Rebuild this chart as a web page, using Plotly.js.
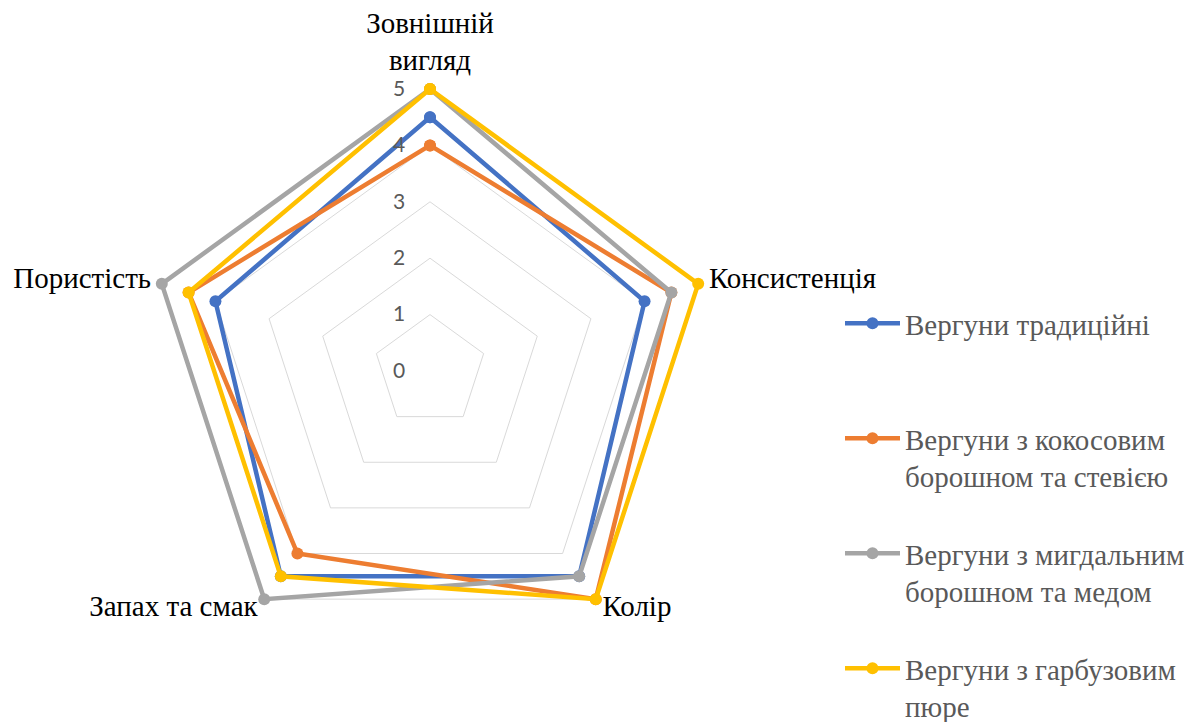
<!DOCTYPE html>
<html>
<head>
<meta charset="utf-8">
<script src="https://cdn.plot.ly/plotly-3.0.1.min.js"></script>
<style>html,body{margin:0;padding:0;background:#fff;}#chart{width:1203px;height:722px;}</style>
</head>
<body>
<div id="chart"></div>
<script>
const categories = ["Зовнішній<br>вигляд", "Консистенція", "Колір", "Запах та смак", "Пористість"];
const seriesNames = [
  "Вергуни традиційні",
  "Вергуни з кокосовим<br>борошном та стевією",
  "Вергуни з мигдальним<br>борошном та медом",
  "Вергуни з гарбузовим<br>пюре"
];
const traditional = [4.5, 4, 4.5, 4.5, 4];
const coconut = [4, 4.5, 5, 4, 4.5];
const almond = [5, 4.5, 4.5, 5, 5];
const pumpkin = [5, 5, 5, 4.5, 4.5];
const radialTicks = [0, 1, 2, 3, 4, 5];

const colors = ["#4472C4", "#ED7D31", "#A5A5A5", "#FFC000"];
const allSeries = [traditional, coconut, almond, pumpkin];
const legendIds = ["legend", "legend2", "legend3", "legend4"];

const close = arr => arr.concat([arr[0]]);

const traces = allSeries.map((vals, i) => ({
  type: "scatterpolar",
  mode: "lines+markers",
  r: close(vals),
  theta: close(categories),
  name: seriesNames[i],
  legend: legendIds[i],
  line: {color: colors[i], width: 4.5},
  marker: {color: colors[i], size: 12},
  cliponaxis: false
}));

// category labels, drawn as text just outside the outer gridline
const labelR = 5.2;
const labelPositions = ["top center", "middle right", "middle right", "middle left", "middle left"];
traces.push({
  type: "scatterpolar",
  mode: "text",
  r: categories.map(() => labelR),
  theta: categories,
  text: categories,
  textposition: labelPositions,
  textfont: {family: "Liberation Serif, Times New Roman, serif", size: 29, color: "#000"},
  showlegend: false,
  hoverinfo: "skip",
  cliponaxis: false
});

const W = 1203, H = 722;
const cx = 430, cy = 371, unit = 56.4, rMax = 5.3;
const R = unit * rMax;

const legendFont = {family: "Liberation Serif, Times New Roman, serif", size: 29, color: "#595959"};
const legendTops = [298, 413, 528, 643];
const mkLegend = top => ({
  xref: "paper", yref: "paper",
  x: 840 / W, y: 1 - top / H,
  xanchor: "left", yanchor: "top",
  font: legendFont, bgcolor: "rgba(0,0,0,0)", valign: "top",
  itemwidth: 55
});

const layout = {
  width: W, height: H,
  margin: {l: 0, r: 0, t: 0, b: 0, autoexpand: false},
  paper_bgcolor: "#fff",
  showlegend: true,
  legend: mkLegend(legendTops[0]),
  legend2: mkLegend(legendTops[1]),
  legend3: mkLegend(legendTops[2]),
  legend4: mkLegend(legendTops[3]),
  polar: {
    domain: {x: [(cx - R) / W, (cx + R) / W], y: [1 - (cy + R) / H, 1 - (cy - R) / H]},
    gridshape: "linear",
    bgcolor: "#fff",
    radialaxis: {
      range: [0, rMax],
      tickvals: radialTicks,
      angle: 90,
      side: "counterclockwise",
      tickangle: 90,
      showline: false,
      ticks: "outside", ticklen: 17, tickcolor: "rgba(0,0,0,0)",
      gridcolor: "#D9D9D9", gridwidth: 1,
      tickfont: {family: "Lato, Open Sans, sans-serif", size: 21, color: "#595959"}
    },
    angularaxis: {
      type: "category",
      categoryarray: categories,
      rotation: 90,
      direction: "clockwise",
      showgrid: false,
      showline: false,
      showticklabels: false,
      ticks: ""
    }
  }
};

Plotly.newPlot("chart", traces, layout, {displayModeBar: false, staticPlot: true});
</script>
</body>
</html>
